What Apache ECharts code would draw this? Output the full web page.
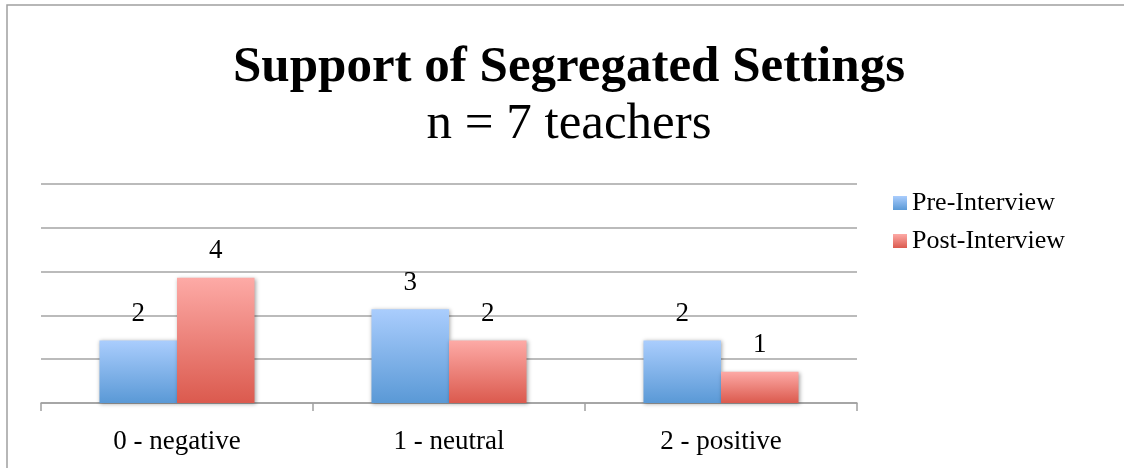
<!DOCTYPE html>
<html>
<head>
<meta charset="utf-8">
<script src="https://cdn.jsdelivr.net/npm/echarts@6/dist/echarts.min.js"></script>
<style>
    html, body {margin: 0; padding: 0; background: #fff;}
    #chart {width: 1124px; height: 468px;}
</style>
</head>
<body>
<div id="chart"></div>
<script>
/**
 * DATA
 */
var categories = ['0 - negative', '1 - neutral', '2 - positive'];
var preInterview = [2, 3, 2];
var postInterview = [4, 2, 1];
var seriesNames = ['Pre-Interview', 'Post-Interview'];

/**
 * CODE
 */
var serif = '"Liberation Serif", "Times New Roman", serif';

function gradient(top, bottom) {
    return new echarts.graphic.LinearGradient(0, 0, 0, 1, [
        {offset: 0, color: top},
        {offset: 1, color: bottom}
    ]);
}

var blue = gradient('#aacdfd', '#5a99d6');
var red = gradient('#fdaaa6', '#db5a4e');

function barSeries(name, data, color) {
    return {
        name: name,
        type: 'bar',
        data: data,
        barGap: '0%',
        barCategoryGap: '43%',
        itemStyle: {
            color: color,
            shadowColor: 'rgba(0,0,0,0.35)',
            shadowBlur: 4,
            shadowOffsetX: 1,
            shadowOffsetY: 1
        },
        label: {
            show: true,
            position: 'top',
            distance: 13,
            color: '#000',
            fontFamily: serif,
            fontSize: 27
        }
    };
}

var chart = echarts.init(document.getElementById('chart'), null, {renderer: 'canvas'});
chart.setOption({
    animation: false,
    backgroundColor: '#fff',
    title: {
        text: 'Support of Segregated Settings',
        subtext: 'n = 7 teachers',
        left: 569,
        textAlign: 'center',
        top: 42,
        padding: 0,
        itemGap: 6,
        textStyle: {
            fontFamily: serif,
            fontWeight: 'bold',
            fontSize: 51,
            lineHeight: 51,
            color: '#000'
        },
        subtextStyle: {
            fontFamily: serif,
            fontSize: 51,
            lineHeight: 51,
            color: '#000'
        }
    },
    legend: {
        orient: 'vertical',
        left: 888,
        top: 185,
        itemWidth: 14,
        itemHeight: 14,
        itemGap: 12,
        icon: 'rect',
        textStyle: {
            fontFamily: serif,
            fontSize: 26,
            color: '#000'
        },
        data: seriesNames
    },
    grid: {
        left: 41,
        right: 267,
        top: 184,
        bottom: 65
    },
    xAxis: {
        type: 'category',
        data: categories,
        axisLine: {lineStyle: {color: '#a0a0a0', width: 1.5}},
        axisTick: {show: true, length: 8, lineStyle: {color: '#a0a0a0', width: 1.5}},
        axisLabel: {
            margin: 25,
            color: '#000',
            fontFamily: serif,
            fontSize: 27
        }
    },
    yAxis: {
        type: 'value',
        min: 0,
        max: 7,
        interval: 1.4,
        axisLine: {show: false},
        axisTick: {show: false},
        axisLabel: {show: false},
        splitLine: {lineStyle: {color: '#a5a5a5', width: 1.5}}
    },
    graphic: [{
        type: 'rect',
        shape: {x: 7, y: 5, width: 1140, height: 480},
        style: {fill: null, stroke: '#a0a0a0', lineWidth: 1.5},
        silent: true
    }],
    series: [
        barSeries(seriesNames[0], preInterview, blue),
        barSeries(seriesNames[1], postInterview, red)
    ]
});
</script>
</body>
</html>
